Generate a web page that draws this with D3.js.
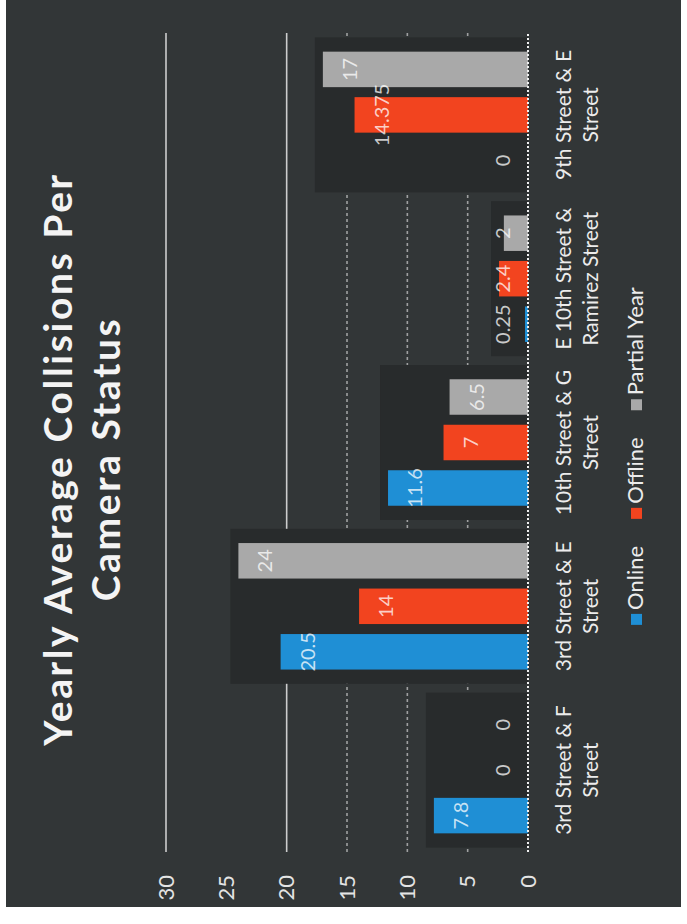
<!DOCTYPE html>
<html>
<head>
<meta charset="utf-8">
<script src="https://cdn.jsdelivr.net/npm/d3@7"></script>
<style>
  html, body { margin: 0; padding: 0; background: #ffffff; }
  svg { display: block; }
</style>
</head>
<body>
<script>
// Category names ("\n" marks where the axis label wraps)
const categories = [
  "3rd Street & F\nStreet",
  "3rd Street & E\nStreet",
  "10th Street & G\nStreet",
  "E 10th Street &\nRamirez Street",
  "9th Street & E\nStreet"
];
const seriesNames = ["Online", "Offline", "Partial Year"];
const online      = [7.8, 20.5, 11.6, 0.25, 0];
const offline     = [0, 14, 7, 2.4, 14.375];
const partialYear = [0, 24, 6.5, 2, 17];
const valueTicks  = [0, 5, 10, 15, 20, 25, 30];
const titleLines  = ["Yearly Average Collisions Per", "Camera Status"];

const pageW = 687, pageH = 924;
// The chart is laid out as an ordinary column chart in a 924 x 687 frame
// and turned a quarter turn so the value axis runs along the bottom edge.

const colors = { "Online": "#1f8fd5", "Offline": "#f2441f", "Partial Year": "#a9a9a9" };
const FONT = "Lato, 'Open Sans', 'DejaVu Sans', sans-serif";

const svg = d3.select("body").append("svg")
  .attr("width", pageW).attr("height", pageH);

svg.append("rect")
  .attr("x", 6).attr("y", 0).attr("width", 675).attr("height", 907)
  .attr("fill", "#323637");

const g = svg.append("g").attr("transform", `translate(0,${pageH}) rotate(-90)`);

const rows = categories.map((c, i) => ({
  cat: c,
  values: seriesNames.map((s, j) => ({
    series: s,
    value: [online, offline, partialYear][j][i]
  }))
}));

const x0 = d3.scaleBand().domain(categories).range([72, 891]);
const x1 = d3.scaleBand().domain(seriesNames).range([0, x0.bandwidth()])
  .paddingInner(0.22).paddingOuter(0.41);
const y = d3.scaleLinear().domain([0, 30]).range([528, 166]);

// gridlines (the 25 line is not shown)
g.append("g").selectAll("line")
  .data(valueTicks.filter(t => t > 0 && t !== 25))
  .join("line")
  .attr("x1", 72).attr("x2", 891)
  .attr("y1", d => y(d)).attr("y2", d => y(d))
  .attr("stroke", "#e8e8e8")
  .attr("stroke-width", 1.6)
  .attr("stroke-opacity", d => d >= 20 ? 0.85 : 0.6)
  .attr("stroke-dasharray", d => d >= 20 ? null : "3,3");

// darker panel behind each category group
g.append("g").selectAll("rect")
  .data(rows)
  .join("rect")
  .attr("x", d => x0(d.cat) + (x0.bandwidth() - 155) / 2)
  .attr("width", 155)
  .attr("y", d => y(d3.max(d.values, v => v.value)) - 8)
  .attr("height", d => y(0) - y(d3.max(d.values, v => v.value)) + 8)
  .attr("fill", "#282b2c");

// bars
const groups = g.append("g").selectAll("g")
  .data(rows)
  .join("g")
  .attr("transform", d => `translate(${x0(d.cat)},0)`);

groups.selectAll("rect")
  .data(d => d.values)
  .join("rect")
  .attr("x", d => x1(d.series))
  .attr("width", x1.bandwidth())
  .attr("y", d => y(d.value))
  .attr("height", d => y(0) - y(d.value))
  .attr("fill", d => colors[d.series]);

// value labels
groups.selectAll("text")
  .data(d => d.values)
  .join("text")
  .attr("x", d => x1(d.series) + x1.bandwidth() / 2)
  .attr("y", d => Math.min(y(d.value) + 27, y(0) - 25))
  .attr("dy", "0.35em")
  .attr("text-anchor", "middle")
  .attr("font-family", FONT)
  .attr("font-size", 20)
  .attr("fill", "#ffffff")
  .attr("fill-opacity", 0.75)
  .text(d => d.value);

// dotted baseline
g.append("line")
  .attr("x1", 72).attr("x2", 891)
  .attr("y1", y(0)).attr("y2", y(0))
  .attr("stroke", "#f0f0f0")
  .attr("stroke-width", 2)
  .attr("stroke-dasharray", "2,2");

// value axis labels
g.append("g").selectAll("text")
  .data(valueTicks)
  .join("text")
  .attr("x", 49)
  .attr("y", d => y(d))
  .attr("dy", "0.35em")
  .attr("text-anchor", "end")
  .attr("font-family", FONT)
  .attr("font-size", 22)
  .attr("fill", "#e4e4e4")
  .text(d => d);

// category labels
const catLabels = g.append("g").selectAll("text")
  .data(categories)
  .join("text")
  .attr("text-anchor", "middle")
  .attr("font-family", FONT)
  .attr("font-size", 21)
  .attr("fill", "#ececec");
catLabels.selectAll("tspan")
  .data(d => d.split("\n").map(line => ({ line, cat: d })))
  .join("tspan")
  .attr("x", d => x0(d.cat) + x0.bandwidth() / 2)
  .attr("y", (d, i) => 571 + i * 27)
  .text(d => d.line);

// title
g.append("text")
  .attr("text-anchor", "middle")
  .attr("font-family", FONT)
  .attr("font-weight", 700)
  .attr("font-size", 39)
  .attr("letter-spacing", 2.6)
  .attr("fill", "#f4f4f4")
  .selectAll("tspan")
  .data(titleLines)
  .join("tspan")
  .attr("x", 465)
  .attr("y", (d, i) => 72 + i * 48)
  .text(d => d);

// legend
const legend = g.append("g");
const items = legend.selectAll("g")
  .data(seriesNames)
  .join("g");
items.append("rect")
  .attr("width", 11).attr("height", 11)
  .attr("y", 631)
  .attr("fill", d => colors[d]);
items.append("text")
  .attr("x", 15)
  .attr("y", 643)
  .attr("font-family", FONT)
  .attr("font-size", 22)
  .attr("fill", "#ececec")
  .text(d => d);
let cursor = 0;
items.each(function () {
  d3.select(this).attr("transform", `translate(${cursor},0)`);
  cursor += this.getBBox().width + 27;
});
const legendW = cursor - 27;
legend.attr("transform", `translate(${468 - legendW / 2},0)`);
</script>
</body>
</html>
